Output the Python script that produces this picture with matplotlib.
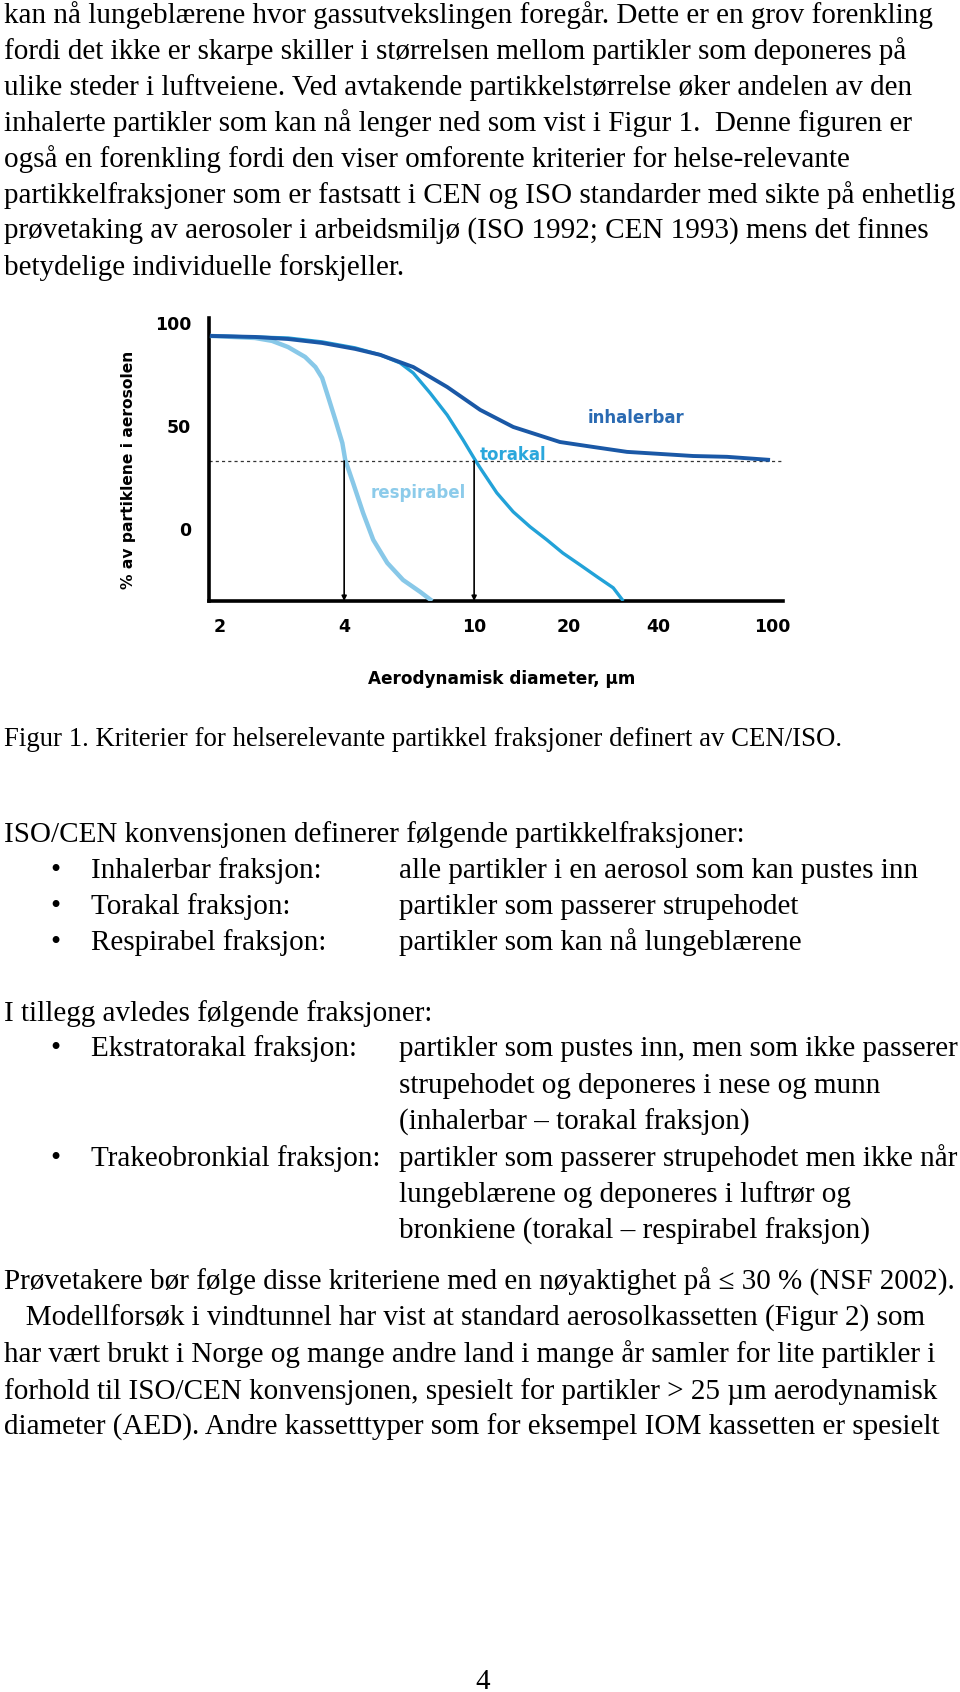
import numpy as np
import matplotlib.pyplot as plt
from matplotlib.ticker import NullLocator

# Kurvedata (lest av figuren), diameter i um og % av partiklene
inh_d = [1.90, 2.44, 2.93, 3.54, 4.32, 5.16, 6.51, 8.27, 10.45, 13.3, 18.7, 24.1, 31.4, 40.7, 53.0, 69.6, 98.4]
inh_v = [93.7, 93.2, 92.2, 90.3, 87.4, 84.5, 78.6, 68.9, 57.8, 49.5, 42.2, 39.8, 37.4, 36.4, 35.4, 35.0, 33.5]

tor_d = [1.90, 2.44, 2.93, 3.54, 4.32, 5.16, 5.93, 6.51, 7.33, 8.27, 9.25, 10.07, 10.45,
         11.8, 13.3, 15.05, 17.0, 19.1, 21.8, 24.9, 28.2, 30.5]
tor_v = [93.7, 93.2, 92.7, 90.8, 87.9, 84.5, 80.6, 75.7, 66.0, 55.3, 43.2, 33.5, 29.6,
         17.5, 8.3, 1.0, -5.3, -11.7, -17.5, -23.3, -28.6, -35.0]

res_d = [1.90, 2.44, 2.68, 2.93, 3.22, 3.41, 3.54, 3.66, 3.81, 3.96, 4.03, 4.26, 4.57,
         4.91, 5.42, 6.06, 6.84, 7.44]
res_v = [93.7, 92.7, 91.3, 88.3, 83.5, 78.6, 73.3, 64.1, 52.9, 41.7, 33.5, 22.3, 7.8,
         -5.3, -16.5, -24.8, -30.6, -35.0]

cut_level = 33.0
cut_d = [4, 10]

x_ticks = [2, 4, 10, 20, 40, 100]
x_ticklabels = ['2', '4', '10', '20', '40', '100']
y_ticks = [0, 50, 100]

# skjev skala i figuren: plassering av merkene langs aksen
LG = np.log10(x_ticks)
POS = np.array([219, 344, 474, 569, 658, 772], float)

def fwd(d):
    lg = np.log10(np.clip(np.asarray(d, float), 1e-6, None))
    out = np.interp(lg, LG, POS)
    lo = lg < LG[0]
    out[lo] = POS[0] + (lg[lo] - LG[0]) * (POS[1] - POS[0]) / (LG[1] - LG[0])
    hi = lg > LG[-1]
    out[hi] = POS[-1] + (lg[hi] - LG[-1]) * (POS[-1] - POS[-2]) / (LG[-1] - LG[-2])
    return out

def inv(p):
    p = np.asarray(p, float)
    lg = np.interp(p, POS, LG)
    lo = p < POS[0]
    lg[lo] = LG[0] + (p[lo] - POS[0]) * (LG[1] - LG[0]) / (POS[1] - POS[0])
    hi = p > POS[-1]
    lg[hi] = LG[-1] + (p[hi] - POS[-1]) * (LG[-1] - LG[-2]) / (POS[-1] - POS[-2])
    return 10 ** lg

# Tekst på siden
para1 = [
    "kan nå lungeblærene hvor gassutvekslingen foregår. Dette er en grov forenkling",
    "fordi det ikke er skarpe skiller i størrelsen mellom partikler som deponeres på",
    "ulike steder i luftveiene. Ved avtakende partikkelstørrelse øker andelen av den",
    "inhalerte partikler som kan nå lenger ned som vist i Figur 1.  Denne figuren er",
    "også en forenkling fordi den viser omforente kriterier for helse-relevante",
    "partikkelfraksjoner som er fastsatt i CEN og ISO standarder med sikte på enhetlig",
    "prøvetaking av aerosoler i arbeidsmiljø (ISO 1992; CEN 1993) mens det finnes",
    "betydelige individuelle forskjeller.",
]
caption = "Figur 1. Kriterier for helserelevante partikkel fraksjoner definert av CEN/ISO."
intro1 = "ISO/CEN konvensjonen definerer følgende partikkelfraksjoner:"
list1 = [
    ("Inhalerbar fraksjon:", ["alle partikler i en aerosol som kan pustes inn"]),
    ("Torakal fraksjon:", ["partikler som passerer strupehodet"]),
    ("Respirabel fraksjon:", ["partikler som kan nå lungeblærene"]),
]
intro2 = "I tillegg avledes følgende fraksjoner:"
list2 = [
    ("Ekstratorakal fraksjon:", ["partikler som pustes inn, men som ikke passerer",
                                 "strupehodet og deponeres i nese og munn",
                                 "(inhalerbar \u2013 torakal fraksjon)"]),
    ("Trakeobronkial fraksjon:", ["partikler som passerer strupehodet men ikke når",
                                  "lungeblærene og deponeres i luftrør og",
                                  "bronkiene (torakal \u2013 respirabel fraksjon)"]),
]
para2 = "Prøvetakere bør følge disse kriteriene med en nøyaktighet på \u2264 30 % (NSF 2002)."
para3 = [
    "   Modellforsøk i vindtunnel har vist at standard aerosolkassetten (Figur 2) som",
    "har vært brukt i Norge og mange andre land i mange år samler for lite partikler i",
    "forhold til ISO/CEN konvensjonen, spesielt for partikler > 25 \u00b5m aerodynamisk",
    "diameter (AED). Andre kassetttyper som for eksempel IOM kassetten er spesielt",
]

W, H = 960, 1692
fig = plt.figure(figsize=(W / 100, H / 100), dpi=100)
serif = 'Liberation Serif'
fs = 21

def put(x, y, s, size=fs, **kw):
    fig.text(x / W, 1 - y / H, s, family=serif, fontsize=size, va='baseline', ha='left', **kw)

y = 23
for line in para1:
    put(4, y, line)
    y += 36

put(4, 746, caption, size=19.3)
put(4, 842, intro1)
y = 878
for lab, desc in list1:
    put(50, y, "\u2022")
    put(91, y, lab)
    for d in desc:
        put(399, y, d)
        y += 36
put(4, 1021, intro2)
y = 1056
for lab, desc in list2:
    put(50, y, "\u2022")
    put(91, y, lab)
    for d in desc:
        put(399, y, d)
        y += 36.6
put(4, 1290, para2)
y = 1326
for line in para3:
    put(4, y, line)
    y += 36.3
fig.text(483 / W, 1 - 1689 / H, "4", family=serif, fontsize=fs, ha='center', va='baseline')

# Diagrammet
ax = fig.add_axes([209 / W, 1 - 601 / H, (783 - 209) / W, (601 - 318) / H])
ax.set_xscale('function', functions=(fwd, inv))
ax.set_xlim(1.89, 109.2)
ax.set_ylim(-35, 102.4)

c_inh = '#1a58a6'
c_tor = '#22a2d8'
c_res = '#88c8e8'
ax.plot(res_d, res_v, color=c_res, lw=3.2, solid_capstyle='butt', zorder=3)
ax.plot(tor_d, tor_v, color=c_tor, lw=2.4, solid_capstyle='butt', zorder=4)
ax.plot(inh_d, inh_v, color=c_inh, lw=2.8, solid_capstyle='butt', zorder=5)

ax.axhline(cut_level, color='#333333', lw=0.9, ls=(0, (2.5, 2.5)), zorder=2)
for d in cut_d:
    ax.annotate('', xy=(d, -35), xytext=(d, cut_level),
                arrowprops=dict(arrowstyle='-|>', color='black', lw=1.2,
                                mutation_scale=7, shrinkA=0, shrinkB=0), zorder=6)

lab_font = dict(fontsize=12, fontweight='bold', family='DejaVu Sans')
ax.text(33.7, 54.0, 'inhalerbar', color='#2a6ab2', ha='center', va='center', **lab_font)
ax.text(13.3, 35.9, 'torakal', color='#2aa7dc', ha='center', va='center', **lab_font)
ax.text(6.74, 17.5, 'respirabel', color='#8ccbea', ha='center', va='center', **lab_font)

for s in ['top', 'right']:
    ax.spines[s].set_visible(False)
for s in ['left', 'bottom']:
    ax.spines[s].set_linewidth(2.6)
    ax.spines[s].set_color('black')

ax.set_xticks(x_ticks)
ax.set_xticklabels(x_ticklabels)
ax.xaxis.set_minor_locator(NullLocator())
ax.set_yticks(y_ticks)
ax.tick_params(axis='both', length=0, labelsize=12.5)
ax.tick_params(axis='x', pad=12)
ax.tick_params(axis='y', pad=13)
for t in ax.get_xticklabels() + ax.get_yticklabels():
    t.set_fontweight('bold')
    t.set_family('DejaVu Sans')

ax.set_ylabel('% av partiklene i aerosolen', fontsize=11.2, fontweight='bold', family='DejaVu Sans')
ax.yaxis.set_label_coords(-0.127, 0.463)
ax.set_xlabel('Aerodynamisk diameter, \u00b5m', fontsize=12.2, fontweight='bold', family='DejaVu Sans')
ax.xaxis.set_label_coords(0.510, -0.244)
ax.patch.set_alpha(0)

fig.savefig('out.png', dpi=100)
